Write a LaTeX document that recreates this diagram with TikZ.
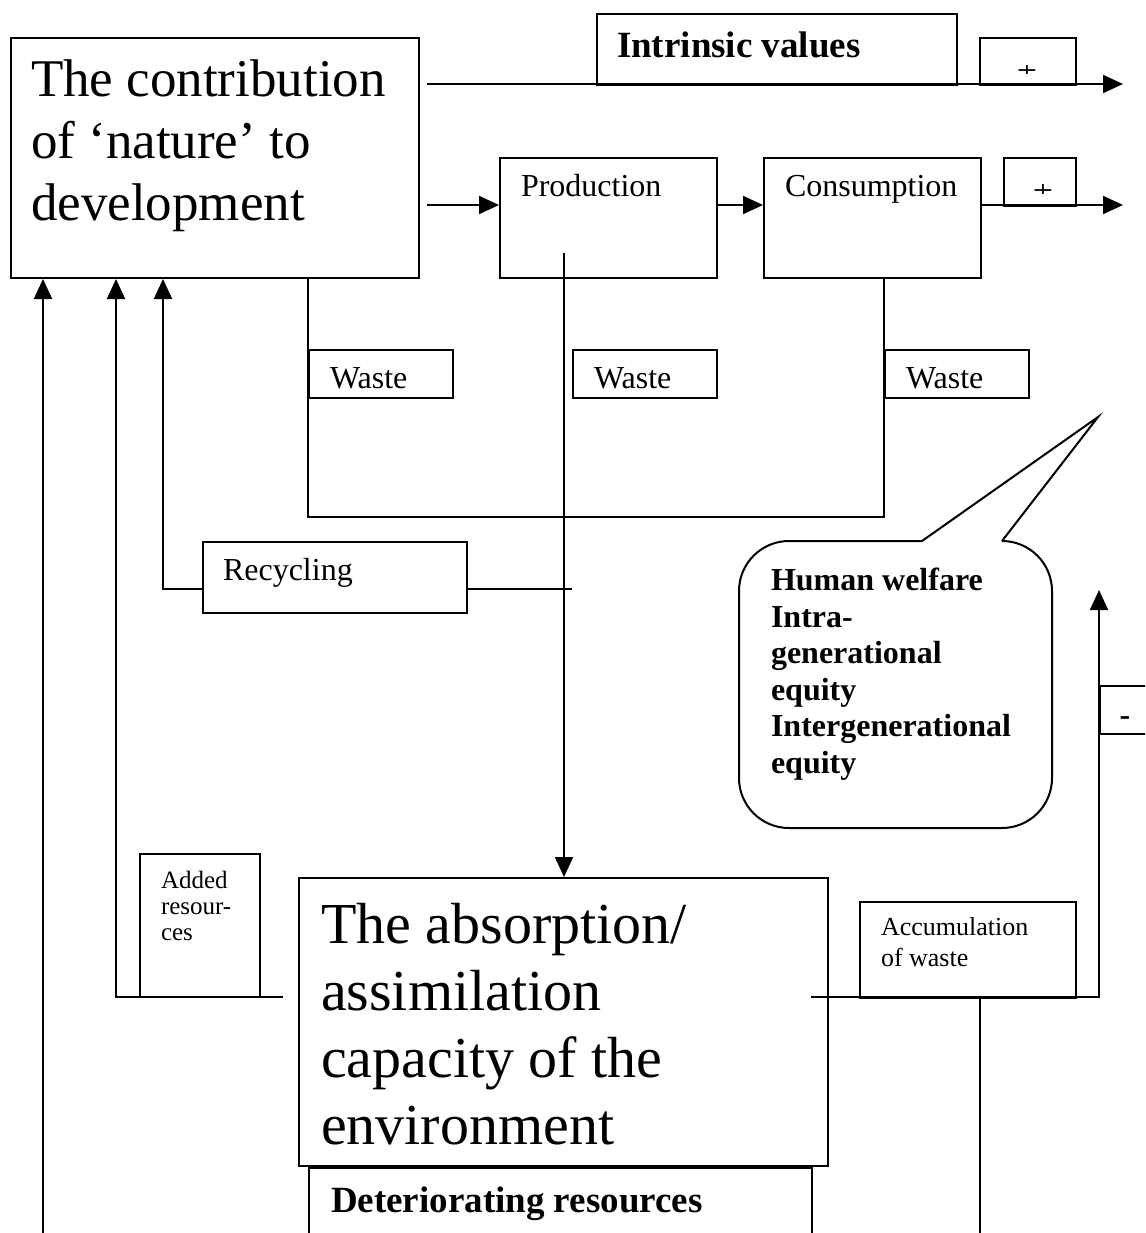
\documentclass[tikz,border=0pt]{standalone}
\usepackage{fontspec}
\setmainfont{Liberation Serif}
\usetikzlibrary{arrows.meta}
\usetikzlibrary{calc}
\tikzset{box/.style={draw, inner sep=0pt, anchor=north west},
  lbl/.style={anchor=base west, inner sep=0pt, align=left},
  arr/.style={-{Triangle[length=20pt,width=18pt]}},
  huge/.style={font=\fontsize{53}{62}\selectfont},
  hugeB/.style={font=\fontsize{58}{67}\selectfont},
  mid/.style={font=\fontsize{32}{37}\selectfont},
  midbold/.style={font=\fontsize{32}{36.5}\selectfont\bfseries},
  head/.style={font=\fontsize{37}{42}\selectfont\bfseries},
  small/.style={font=\fontsize{25}{26}\selectfont},
  signtxt/.style={inner sep=0pt, font=\fontsize{36}{36}\selectfont}}

\begin{document}
\begin{tikzpicture}[x=1pt, y=-1pt, line width=2pt]
    \clip (0,0) rectangle (1145,1233);

    % boxes
    \node[box, minimum width=408, minimum height=240] (contrib) at (10,37) {};
    \node[box, minimum width=360, minimum height=71] (intrinsic) at (596,13) {};
    \node[box, minimum width=96, minimum height=47] (plusA) at (979,37) {};
    \node[box, minimum width=217, minimum height=120] (prod) at (499,157) {};
    \node[box, minimum width=217, minimum height=120] (cons) at (763,157) {};
    \node[box, minimum width=72, minimum height=48] (plusB) at (1003,157) {};
    \node[box, minimum width=144, minimum height=48] (wasteA) at (308,349) {};
    \node[box, minimum width=144, minimum height=48] (wasteB) at (572,349) {};
    \node[box, minimum width=144, minimum height=48] (wasteC) at (884,349) {};
    \node[box, minimum width=264, minimum height=71] (recyc) at (202,541) {};
    \node[box, minimum width=120, minimum height=143] (added) at (139,853) {};
    \node[box, minimum width=529, minimum height=288] (absorb) at (298,877) {};
    \node[box, minimum width=503, minimum height=90] (deter) at (308,1167) {};
    \node[box, minimum width=216, minimum height=96] (accum) at (859,901) {};
    \node[box, minimum width=70, minimum height=48] (minus) at (1099,685) {};

    % texts (multi-line ones sit on their last baseline)
    \node[lbl, huge] (contribtxt) at (30,221) {The contribution\\of ‘nature’ to\\development};
    \node[lbl, head] (intrinsictxt) at (616,58) {Intrinsic values};
    \node[lbl, mid] (prodtxt) at (520,197) {Production};
    \node[lbl, mid] (constxt) at (784,197) {Consumption};
    \node[lbl, mid] (wasteAtxt) at (329,388) {Waste};
    \node[lbl, mid] (wasteBtxt) at (593,388) {Waste};
    \node[lbl, mid] (wasteCtxt) at (905,388) {Waste};
    \node[lbl, mid] (recyctxt) at (222,580) {Recycling};
    \node[lbl, small] (addedtxt) at (160,940) {Added\\resour-\\ces};
    \node[lbl, hugeB] (absorbtxt) at (320,1144) {The absorption/\\assimilation\\capacity of the\\environment};
    \node[lbl, head] (detertxt) at (330,1212) {Deteriorating resources};
    \node[lbl, small, font=\fontsize{26}{31}\selectfont] (accumtxt) at (880,966) {Accumulation\\of waste};
    \node[signtxt, font=\fontsize{32}{32}\selectfont\bfseries] (minustxt) at (1125,721) {-};
    \begin{scope}
      \clip (979,66) rectangle (1075,74);
      \node[signtxt] (plusAtxt) at (1027,72) {+};
    \end{scope}
    \begin{scope}
      \clip (1003,185) rectangle (1075,194);
      \node[signtxt] (plusBtxt) at (1043,192) {+};
    \end{scope}

    % upper flows
    \coordinate (topL) at (427,84);
    \coordinate (topR) at (1123,84);
    \coordinate (midL) at (427,205);
    \coordinate (midR) at (1123,205);
    \draw[arr] (topL) -- (topR);
    \draw[arr] (midL) -- (midL -| prod.west);
    \draw[arr] (midL -| prod.east) -- (midL -| cons.west);
    \draw[arr] (midL -| cons.east) -- (midR);

    % waste loop
    \coordinate (loopA) at (308,517);
    \coordinate (loopB) at (884,517);
    \draw (contrib.south -| loopA) -- (loopA) -- (loopB) -- (cons.south -| loopB);

    \coordinate (prodin) at (564,253);
    \draw[arr] (prodin) -- (absorb.north -| prodin);

    % recycling
    \coordinate (recR) at (572,589);
    \coordinate (recL) at (163,589);
    \draw (recyc.east |- recR) -- (recR);
    \draw[arr] (recyc.west |- recL) -- (recL) -- (contrib.south -| recL);

    % back to nature
    \coordinate (farL) at (43,1240);
    \coordinate (addR) at (283,997);
    \coordinate (addL) at (116,997);
    \draw[arr] (farL) -- (contrib.south -| farL);
    \draw[arr] (addR) -- (addL) -- (contrib.south -| addL);

    % accumulation
    \coordinate (accL) at (811,997);
    \coordinate (accR) at (1099,997);
    \coordinate (accUp) at (1099,590);
    \coordinate (accDown) at (980,1240);
    \draw[arr] (accL) -- (accR) -- (accUp);
    \draw (accum.south -| accDown) -- (accDown);

    % welfare callout
    \draw[rounded corners=50] (1002,541) -- (1052,541) -- (1052,828) -- (739,828) -- (739,541) -- (922,541);
    \draw (922,541) -- (1098,417) -- (1002,541);
    \node[lbl, midbold] (welfare) at (770,773) {Human welfare\\Intra-\\generational\\equity\\Intergenerational\\equity};
\end{tikzpicture}
\end{document}
